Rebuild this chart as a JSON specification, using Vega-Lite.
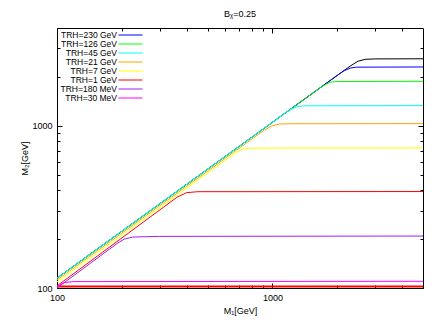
{
 "$schema": "https://vega.github.io/schema/vega-lite/v6.json",
 "width": 366, "height": 260,
 "autosize": {"type": "none"},
 "padding": {"left": 57, "top": 28, "right": 13, "bottom": 39},
 "background": "white",
 "config": {
  "view": {"stroke": "#000", "strokeWidth": 1},
  "font": "Liberation Sans",
  "axis": {"domain": false, "grid": false, "labelFlush": false, "labelFont": "Liberation Sans", "labelFontSize": 9, "labelColor": "#000", "tickColor": "#000", "titleFont": "Liberation Sans", "titleFontSize": 9, "titleFontWeight": "normal", "titleColor": "#000"}
 },
 "title": {"text": "Bᵪ=0.25", "fontSize": 9, "fontWeight": "normal", "font": "Liberation Sans", "color": "#000", "offset": 9},
 "datasets": {
  "curves": [
   {"s": "k", "T": "black", "M1": 100, "M2": 115},
   {"s": "k", "T": "black", "M1": 1000, "M2": 1049},
   {"s": "k", "T": "black", "M1": 2000, "M2": 2042},
   {"s": "k", "T": "black", "M1": 2300, "M2": 2334},
   {"s": "k", "T": "black", "M1": 2500, "M2": 2500},
   {"s": "k", "T": "black", "M1": 2700, "M2": 2565},
   {"s": "k", "T": "black", "M1": 3000, "M2": 2580},
   {"s": "k", "T": "black", "M1": 5000, "M2": 2585},
   {"s": "r0", "T": "low", "M1": 100, "M2": 102},
   {"s": "r0", "T": "low", "M1": 5000, "M2": 102},
   {"s": "c", "T": "TRH=230 GeV", "M1": 100, "M2": 115},
   {"s": "c", "T": "TRH=230 GeV", "M1": 1000, "M2": 1049},
   {"s": "c", "T": "TRH=230 GeV", "M1": 2000, "M2": 2042},
   {"s": "c", "T": "TRH=230 GeV", "M1": 2150, "M2": 2180},
   {"s": "c", "T": "TRH=230 GeV", "M1": 2300, "M2": 2265},
   {"s": "c", "T": "TRH=230 GeV", "M1": 2450, "M2": 2295},
   {"s": "c", "T": "TRH=230 GeV", "M1": 5000, "M2": 2301},
   {"s": "c", "T": "TRH=126 GeV", "M1": 100, "M2": 115},
   {"s": "c", "T": "TRH=126 GeV", "M1": 1000, "M2": 1049},
   {"s": "c", "T": "TRH=126 GeV", "M1": 1700, "M2": 1745},
   {"s": "c", "T": "TRH=126 GeV", "M1": 1850, "M2": 1855},
   {"s": "c", "T": "TRH=126 GeV", "M1": 2000, "M2": 1872},
   {"s": "c", "T": "TRH=126 GeV", "M1": 5000, "M2": 1877},
   {"s": "c", "T": "TRH=45 GeV", "M1": 100, "M2": 115},
   {"s": "c", "T": "TRH=45 GeV", "M1": 1000, "M2": 1049},
   {"s": "c", "T": "TRH=45 GeV", "M1": 1200, "M2": 1249},
   {"s": "c", "T": "TRH=45 GeV", "M1": 1300, "M2": 1310},
   {"s": "c", "T": "TRH=45 GeV", "M1": 1400, "M2": 1326},
   {"s": "c", "T": "TRH=45 GeV", "M1": 5000, "M2": 1330},
   {"s": "c", "T": "TRH=21 GeV", "M1": 100, "M2": 112},
   {"s": "c", "T": "TRH=21 GeV", "M1": 920, "M2": 943},
   {"s": "c", "T": "TRH=21 GeV", "M1": 1000, "M2": 1000},
   {"s": "c", "T": "TRH=21 GeV", "M1": 1080, "M2": 1024},
   {"s": "c", "T": "TRH=21 GeV", "M1": 1200, "M2": 1028},
   {"s": "c", "T": "TRH=21 GeV", "M1": 5000, "M2": 1030},
   {"s": "c", "T": "TRH=7 GeV", "M1": 100, "M2": 109},
   {"s": "c", "T": "TRH=7 GeV", "M1": 650, "M2": 657},
   {"s": "c", "T": "TRH=7 GeV", "M1": 723, "M2": 718},
   {"s": "c", "T": "TRH=7 GeV", "M1": 800, "M2": 727},
   {"s": "c", "T": "TRH=7 GeV", "M1": 5000, "M2": 730},
   {"s": "c", "T": "TRH=1 GeV", "M1": 100, "M2": 103},
   {"s": "c", "T": "TRH=1 GeV", "M1": 270, "M2": 273},
   {"s": "c", "T": "TRH=1 GeV", "M1": 360, "M2": 362},
   {"s": "c", "T": "TRH=1 GeV", "M1": 400, "M2": 387},
   {"s": "c", "T": "TRH=1 GeV", "M1": 450, "M2": 392},
   {"s": "c", "T": "TRH=1 GeV", "M1": 5000, "M2": 393},
   {"s": "c", "T": "TRH=180 MeV", "M1": 100, "M2": 100},
   {"s": "c", "T": "TRH=180 MeV", "M1": 190, "M2": 188},
   {"s": "c", "T": "TRH=180 MeV", "M1": 205, "M2": 200},
   {"s": "c", "T": "TRH=180 MeV", "M1": 225, "M2": 206},
   {"s": "c", "T": "TRH=180 MeV", "M1": 300, "M2": 208},
   {"s": "c", "T": "TRH=180 MeV", "M1": 5000, "M2": 209},
   {"s": "c", "T": "TRH=30 MeV", "M1": 100, "M2": 102},
   {"s": "c", "T": "TRH=30 MeV", "M1": 108, "M2": 108},
   {"s": "c", "T": "TRH=30 MeV", "M1": 120, "M2": 109.5},
   {"s": "c", "T": "TRH=30 MeV", "M1": 5000, "M2": 110}
  ]
 },
 "data": {"name": "curves"},
 "layer": [
  {
   "transform": [{"filter": "datum.s == 'k'"}],
   "mark": {"type": "line", "color": "#000000", "strokeWidth": 1, "clip": true},
   "encoding": {
    "x": {"field": "M1", "type": "quantitative", "scale": {"type": "log", "domain": [100, 5000], "nice": false}, "axis": null},
    "y": {"field": "M2", "type": "quantitative", "scale": {"type": "log", "domain": [100, 4000], "nice": false}, "axis": null}
   }
  },
  {
   "transform": [{"filter": "datum.s == 'r0'"}],
   "mark": {"type": "line", "color": "#ff0000", "strokeWidth": 2, "clip": true},
   "encoding": {
    "x": {"field": "M1", "type": "quantitative", "scale": {"type": "log", "domain": [100, 5000], "nice": false}, "axis": null},
    "y": {"field": "M2", "type": "quantitative", "scale": {"type": "log", "domain": [100, 4000], "nice": false}, "axis": null}
   }
  },
  {
   "transform": [{"filter": "datum.s == 'c'"}],
   "mark": {"type": "line", "strokeWidth": 1, "clip": true},
   "encoding": {
    "x": {"field": "M1", "type": "quantitative", "scale": {"type": "log", "domain": [100, 5000], "nice": false},
      "axis": {"orient": "bottom", "values": [100, 1000], "format": "d", "tickSize": -5, "labelPadding": 10, "title": "M₁[GeV]", "titlePadding": 4}},
    "y": {"field": "M2", "type": "quantitative", "scale": {"type": "log", "domain": [100, 4000], "nice": false},
      "axis": {"orient": "left", "values": [100, 1000], "format": "d", "tickSize": -5, "labelPadding": 10, "title": "M₂[GeV]", "titlePadding": 2}},
    "color": {"field": "T", "type": "nominal",
     "scale": {"domain": ["TRH=230 GeV", "TRH=126 GeV", "TRH=45 GeV", "TRH=21 GeV", "TRH=7 GeV", "TRH=1 GeV", "TRH=180 MeV", "TRH=30 MeV"],
               "range": ["#0000ff", "#00ff00", "#00ffff", "#ffa500", "#ffff00", "#ff0000", "#a020f0", "#ff00ff"]},
     "legend": {"orient": "none", "legendX": 61, "legendY": 2.5, "title": null, "symbolType": "M-3,0H3", "symbolSize": 64, "symbolStrokeWidth": 1, "symbolOffset": 8, "labelAlign": "right", "labelOffset": -18, "labelFontSize": 8.5, "labelFont": "Liberation Sans", "labelColor": "#000", "rowPadding": 0, "padding": 0}}
   }
  },
  {
   "transform": [{"filter": "datum.s == 'r0'"}],
   "mark": {"type": "line", "opacity": 0},
   "encoding": {
    "x": {"field": "M1", "type": "quantitative", "scale": {"type": "log", "domain": [100, 5000], "nice": false},
      "axis": {"orient": "bottom", "values": [200, 300, 400, 500, 600, 700, 800, 900, 2000, 3000, 4000], "tickSize": -3, "labels": false, "title": null}},
    "y": {"field": "M2", "type": "quantitative", "scale": {"type": "log", "domain": [100, 4000], "nice": false},
      "axis": {"orient": "left", "values": [200, 300, 400, 500, 600, 700, 800, 900, 2000, 3000], "tickSize": -3, "labels": false, "title": null}}
   }
  },
  {
   "transform": [{"filter": "datum.s == 'r0'"}],
   "mark": {"type": "line", "opacity": 0},
   "encoding": {
    "x": {"field": "M1", "type": "quantitative", "scale": {"type": "log", "domain": [100, 5000], "nice": false},
      "axis": {"orient": "top", "values": [100, 1000], "tickSize": -5, "labels": false, "title": null}},
    "y": {"field": "M2", "type": "quantitative", "scale": {"type": "log", "domain": [100, 4000], "nice": false},
      "axis": {"orient": "right", "values": [100, 1000], "tickSize": -5, "labels": false, "title": null}}
   }
  },
  {
   "transform": [{"filter": "datum.s == 'r0'"}],
   "mark": {"type": "line", "opacity": 0},
   "encoding": {
    "x": {"field": "M1", "type": "quantitative", "scale": {"type": "log", "domain": [100, 5000], "nice": false},
      "axis": {"orient": "top", "values": [200, 300, 400, 500, 600, 700, 800, 900, 2000, 3000, 4000], "tickSize": -3, "labels": false, "title": null}},
    "y": {"field": "M2", "type": "quantitative", "scale": {"type": "log", "domain": [100, 4000], "nice": false},
      "axis": {"orient": "right", "values": [200, 300, 400, 500, 600, 700, 800, 900, 2000, 3000], "tickSize": -3, "labels": false, "title": null}}
   }
  }
 ],
 "resolve": {"axis": {"x": "independent", "y": "independent"}}
}
